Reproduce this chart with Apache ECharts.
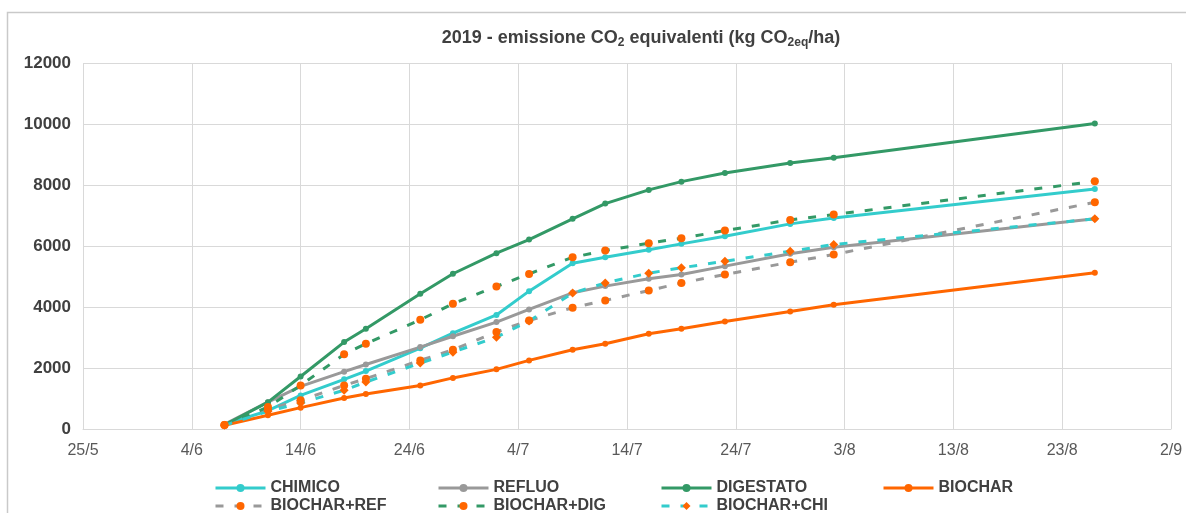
<!DOCTYPE html>
<html>
<head>
<meta charset="utf-8">
<script src="https://cdn.jsdelivr.net/npm/echarts@6/dist/echarts.min.js"></script>
<style>
  html, body { margin: 0; padding: 0; background: #ffffff; }
  #chart { width: 1186px; height: 513px; }
</style>
</head>
<body>
<div id="chart"></div>
<script>
// Sampling dates (2019) and cumulative CO2-equivalent emissions, kg CO2eq/ha
const sampleDates = ['2019-06-07','2019-06-11','2019-06-14','2019-06-18','2019-06-20','2019-06-25',
  '2019-06-28','2019-07-02','2019-07-05','2019-07-09','2019-07-12','2019-07-16','2019-07-19',
  '2019-07-23','2019-07-29','2019-08-02','2019-08-26'];

const chimico    = [150, 600, 1100, 1630, 1900, 2650, 3140, 3740, 4520, 5435, 5630, 5875, 6070, 6320, 6725, 6920, 7870];
const refluo     = [150, 880, 1400, 1880, 2115, 2685, 3040, 3505, 3920, 4465, 4685, 4925, 5065, 5340, 5745, 5960, 6890];
const digestato  = [130, 880, 1720, 2850, 3290, 4435, 5090, 5765, 6210, 6890, 7390, 7840, 8110, 8395, 8720, 8890, 10020];
const biochar    = [120, 450, 700, 1015, 1150, 1425, 1675, 1955, 2250, 2600, 2795, 3125, 3285, 3525, 3855, 4075, 5120];
const biocharRef = [130, 650, 940, 1430, 1650, 2250, 2600, 3180, 3560, 3975, 4215, 4540, 4790, 5065, 5470, 5720, 7435];
const biocharDig = [130, 720, 1430, 2450, 2795, 3580, 4105, 4675, 5085, 5630, 5850, 6090, 6255, 6505, 6855, 7030, 8120];
const biocharChi = [120, 580, 850, 1270, 1540, 2160, 2520, 3010, 3540, 4455, 4790, 5110, 5285, 5500, 5830, 6050, 6890];

// x axis: days counted from 25 May, one tick every 10 days
const axisStart = '2019-05-25';
const tickLabels = ['25/5','4/6','14/6','24/6','4/7','14/7','24/7','3/8','13/8','23/8','2/9'];
const yTicks = [0, 2000, 4000, 6000, 8000, 10000, 12000];

// legend layout: series names by row
const legendRows = [
  ['CHIMICO', 'REFLUO', 'DIGESTATO', 'BIOCHAR'],
  ['BIOCHAR+REF', 'BIOCHAR+DIG', 'BIOCHAR+CHI']
];

const DAY = 86400000;
function dayOffset(iso) {
  const [y, m, d] = iso.split('-').map(Number);
  const [y0, m0, d0] = axisStart.split('-').map(Number);
  return Math.round((Date.UTC(y, m - 1, d) - Date.UTC(y0, m0 - 1, d0)) / DAY);
}
const xDays = sampleDates.map(dayOffset);
const pairs = vals => vals.map((v, i) => [xDays[i], v]);

const FONT = "'Liberation Sans', Arial, sans-serif";
const ORANGE = '#FF6600';

function solid(name, color, vals) {
  return {
    name, type: 'line', data: pairs(vals),
    symbol: 'circle', symbolSize: 6,
    lineStyle: { color, width: 3 },
    itemStyle: { color },
    emphasis: { disabled: true }
  };
}
function dashed(name, color, vals, symbol, size) {
  return {
    name, type: 'line', data: pairs(vals),
    symbol, symbolSize: size,
    lineStyle: { color, width: 3, type: [8, 11] },
    itemStyle: { color: ORANGE },
    emphasis: { disabled: true }
  };
}

// one legend block per entry so the columns line up on a fixed pitch
const colLeft = [214, 437, 660, 882];
const rowTop = [480, 498];
const legends = [];
legendRows.forEach((row, r) => row.forEach((name, c) => {
  legends.push({
    left: colLeft[c], top: rowTop[r],
    itemWidth: 50, itemHeight: 10, itemGap: 0, padding: 0,
    lineStyle: { width: 3 },
    data: [name],
    textStyle: { fontFamily: FONT, fontWeight: 'bold', fontSize: 16, color: '#404040' }
  });
}));

const chart = echarts.init(document.getElementById('chart'), null, { renderer: 'canvas' });
chart.setOption({
  animation: false,
  backgroundColor: '#ffffff',
  textStyle: { fontFamily: FONT },
  graphic: [{
    type: 'rect', silent: true, z: -10,
    shape: { x: 7.5, y: 12.5, width: 1200, height: 520 },
    style: { fill: 'none', stroke: '#C9C9C9', lineWidth: 1.5 }
  }],
  title: {
    text: '2019 - emissione CO{s|2} equivalenti (kg CO{s|2eq}/ha)',
    left: 636, top: 23, textAlign: 'center',
    textStyle: {
      fontFamily: FONT, fontWeight: 'bold', fontSize: 18, color: '#404040',
      rich: { s: { fontFamily: FONT, fontWeight: 'bold', fontSize: 12, color: '#404040', padding: [9, 0, 0, 0] } }
    }
  },
  grid: { left: 83, right: 15, top: 63, bottom: 84, containLabel: false },
  xAxis: {
    type: 'value', min: 0, max: (tickLabels.length - 1) * 10, interval: 10,
    axisLine: { show: true, lineStyle: { color: '#D9D9D9', width: 1 } },
    axisTick: { show: false },
    splitLine: { show: true, lineStyle: { color: '#D9D9D9', width: 1 } },
    axisLabel: {
      margin: 14, fontFamily: FONT, fontSize: 16, color: '#595959',
      formatter: v => tickLabels[Math.round(v / 10)] || ''
    }
  },
  yAxis: {
    type: 'value', min: yTicks[0], max: yTicks[yTicks.length - 1], interval: yTicks[1] - yTicks[0],
    axisLine: { show: false }, axisTick: { show: false },
    splitLine: { show: true, lineStyle: { color: '#D9D9D9', width: 1 } },
    axisLabel: {
      margin: 12, fontFamily: FONT, fontSize: 17, fontWeight: 'bold', color: '#404040',
      formatter: v => String(v)
    }
  },
  legend: legends,
  series: [
    solid('CHIMICO', '#33CCCC', chimico),
    solid('REFLUO', '#999999', refluo),
    solid('DIGESTATO', '#339966', digestato),
    solid('BIOCHAR', ORANGE, biochar),
    dashed('BIOCHAR+REF', '#999999', biocharRef, 'circle', 8),
    dashed('BIOCHAR+DIG', '#339966', biocharDig, 'circle', 8),
    dashed('BIOCHAR+CHI', '#33CCCC', biocharChi, 'diamond', 9)
  ]
});
</script>
</body>
</html>
